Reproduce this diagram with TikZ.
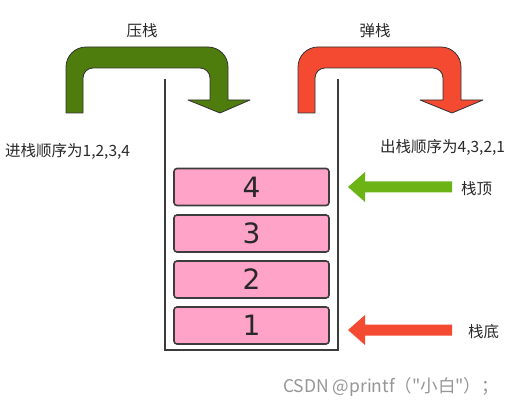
\documentclass[tikz,border=0pt]{standalone}
\usepackage{fontspec}
\setmainfont{Noto Sans CJK SC}
\newfontfamily\numfont{DejaVu Sans}
\newfontfamily\wmfont[Ligatures=TeXOff]{Noto Sans CJK SC}
\definecolor{dkgreen}{RGB}{78,125,14}
\definecolor{ltgreen}{RGB}{108,180,22}
\definecolor{myred}{RGB}{244,74,50}
\definecolor{mypink}{RGB}{255,163,200}
\definecolor{boxline}{RGB}{60,60,60}
\definecolor{txt}{RGB}{40,40,40}
\definecolor{wm}{RGB}{150,150,150}
\tikzset{
  stackbox/.style={draw=boxline, line width=1.6pt, fill=mypink, rounded corners=3pt,
    minimum width=155pt, minimum height=37pt, inner sep=0pt,
    font=\numfont\fontsize{28}{30}\selectfont, text=txt},
  lbl/.style={font=\fontsize{15.5}{17}\selectfont, text=txt, inner sep=0pt},
  bent/.style={draw=black!80, line width=0.8pt, line join=round},
  wall/.style={draw=boxline, line width=1.6pt}
}
\begin{document}
\begin{tikzpicture}[x=1pt,y=-1pt]
\useasboundingbox (0,0) rectangle (527,406);
% bent green arrow (push)
\path[bent, fill=dkgreen] (66,113) [rounded corners=20pt] -- (66,47) -- (228,47) [sharp corners] -- (228,100) -- (250,100) -- (220,113) -- (188,100) -- (210,100) [rounded corners=10pt] -- (210,68) -- (83,68) [sharp corners] -- (83,113) -- cycle;
% bent red arrow (pop)
\path[bent, fill=myred] (298,113) [rounded corners=20pt] -- (298,47) -- (461,47) [sharp corners] -- (461,100) -- (483,100) -- (452,113) -- (420,100) -- (443,100) [rounded corners=10pt] -- (443,68) -- (315,68) [sharp corners] -- (315,113) -- cycle;
\node[lbl] (push) at (142,31) {压栈};
\node[lbl] (pop) at (375,31) {弹栈};
\node[lbl, anchor=west] (inorder) at (5,151) {进栈顺序为1,2,3,4};
\node[lbl, anchor=west] (outorder) at (380,147) {出栈顺序为4,3,2,1};
% stack container
\draw[wall] (165,79) -- (165,350) -- (338,350) -- (338,79);
% boxes
\node[stackbox] (b4) at (251.5,187) {4};
\node[stackbox] (b3) at (251.5,233.5) {3};
\node[stackbox] (b2) at (251.5,279.5) {2};
\node[stackbox] (b1) at (251.5,325.5) {1};
% top / bottom markers
\node[lbl, anchor=west] (top) at (461,189) {栈顶};
\node[lbl, anchor=west] (bottom) at (468,332) {栈底};
\fill[ltgreen] (348,187) -- (365,172) -- (365,181.5) -- (452,181.5) -- (452,192.5) -- (365,192.5) -- (365,202) -- cycle;
\fill[myred] (348,330) -- (365,315) -- (365,324.5) -- (452,324.5) -- (452,335.5) -- (365,335.5) -- (365,345) -- cycle;
% watermark
\node[font=\wmfont\fontsize{17.5}{19}\selectfont, text=wm, anchor=west, inner sep=0pt] (wmk) at (283,387) {CSDN @printf（"小白"）；};
\end{tikzpicture}
\end{document}
